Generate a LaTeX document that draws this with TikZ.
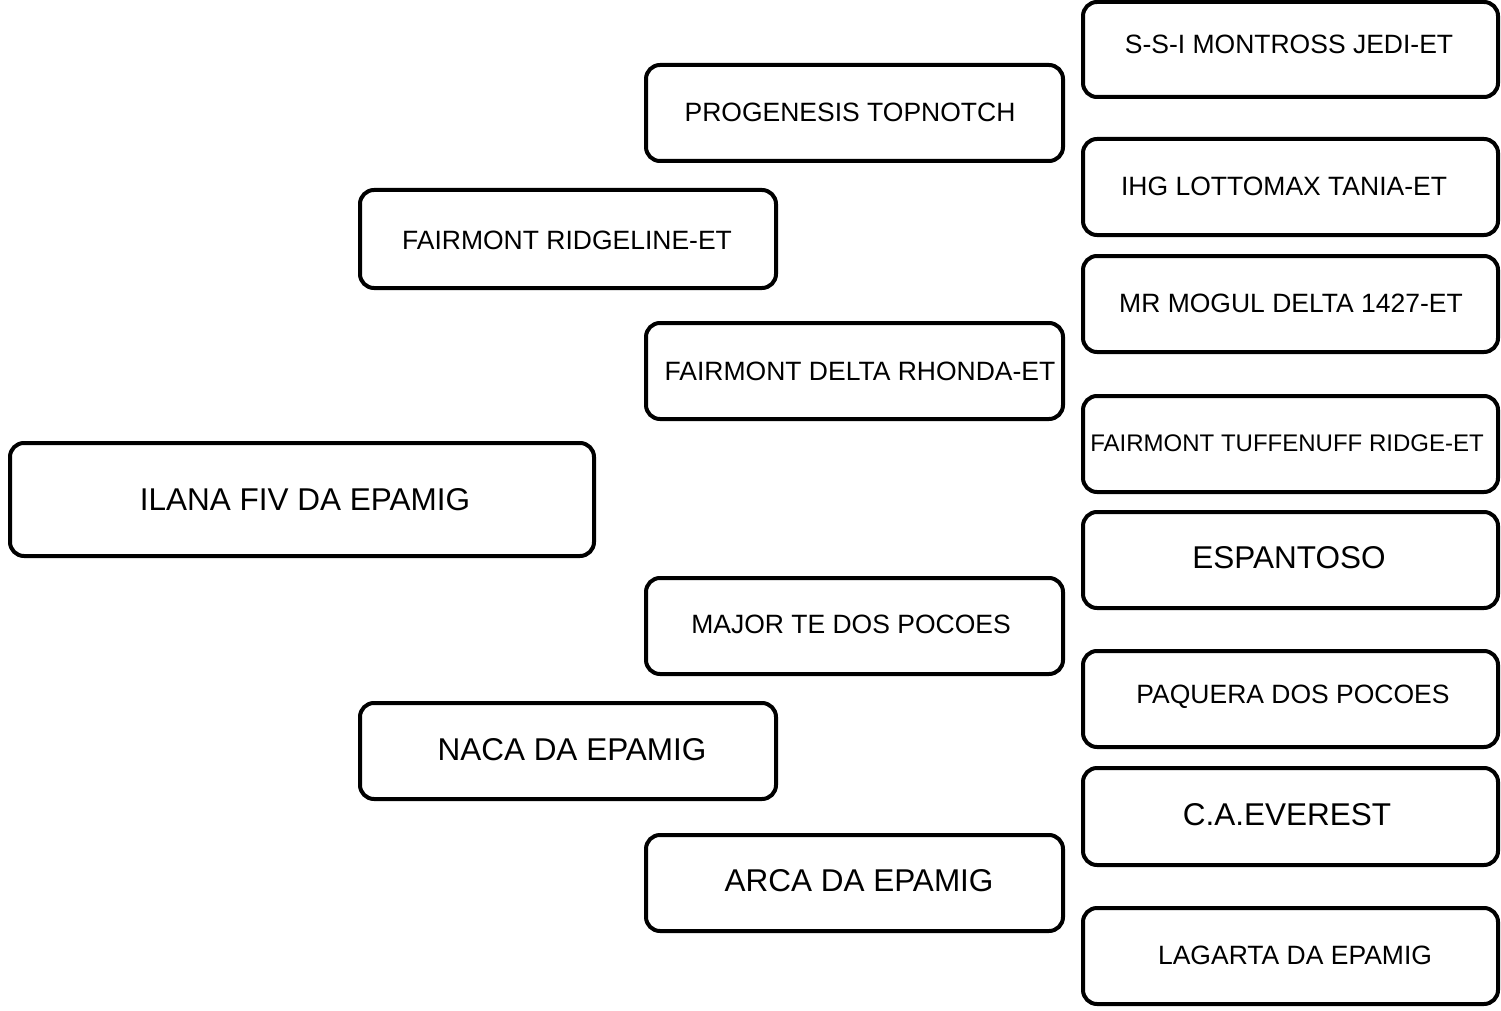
\documentclass[tikz,border=0pt]{standalone}
\usepackage{fontspec}
\setmainfont{Liberation Sans}
\usetikzlibrary{calc}
\tikzset{
  pbox/.style={draw=black, line width=4pt, rounded corners=14pt, fill=white, inner sep=0pt},
  lbl/.style={inner sep=0pt, text=black, anchor=center},
  big/.style={font=\fontsize{31.5}{36}\selectfont},
  small/.style={font=\fontsize{26.5}{30}\selectfont},
  tiny/.style={font=\fontsize{24}{28}\selectfont}
}
% \pbx{name}{x1}{y1}{x2}{y2}{tx}{ty}{style}{text}
\newcommand{\pbx}[9]{%
  \node[pbox, minimum width={(#4-#2)*1pt}, minimum height={(#5-#3)*1pt}] (#1) at ({(#2+#4)/2},{(#3+#5)/2}) {};
  \node[lbl,#8] (#1t) at (#6,#7) {#9};
}
\begin{document}
\begin{tikzpicture}[x=1pt,y=-1pt]
\useasboundingbox (0,0) rectangle (1501,1011);
\pbx{a1}{1083}{2}{1498}{97}{1289}{44}{small}{S-S-I MONTROSS JEDI-ET}
\pbx{a2}{646}{65}{1063}{161}{850}{112}{small}{PROGENESIS TOPNOTCH}
\pbx{a3}{1083}{139}{1498}{235}{1284}{186}{small}{IHG LOTTOMAX TANIA-ET}
\pbx{a4}{360}{190}{776}{288}{567}{240}{small}{FAIRMONT RIDGELINE-ET}
\pbx{a5}{1083}{256}{1498}{352}{1291}{303}{small}{MR MOGUL DELTA 1427-ET}
\pbx{a6}{646}{323}{1063}{419}{860}{371}{small}{FAIRMONT DELTA RHONDA-ET}
\pbx{a7}{1083}{396}{1498}{492}{1287}{443}{tiny}{FAIRMONT TUFFENUFF RIDGE-ET}
\pbx{a8}{10}{443}{594}{556}{305}{500}{big}{ILANA FIV DA EPAMIG}
\pbx{a9}{1083}{512}{1498}{608}{1289}{558}{big}{ESPANTOSO}
\pbx{a10}{646}{578}{1063}{674}{851}{624}{small}{MAJOR TE DOS POCOES}
\pbx{a11}{1083}{651}{1498}{747}{1293}{697}{small}{PAQUERA DOS POCOES}
\pbx{a12}{360}{703}{776}{799}{572}{750}{big}{NACA DA EPAMIG}
\pbx{a13}{1083}{768}{1498}{865}{1287}{815}{big}{C.A.EVEREST}
\pbx{a14}{646}{835}{1063}{931}{859}{881}{big}{ARCA DA EPAMIG}
\pbx{a15}{1083}{908}{1498}{1004}{1295}{955}{small}{LAGARTA DA EPAMIG}
\end{tikzpicture}
\end{document}
